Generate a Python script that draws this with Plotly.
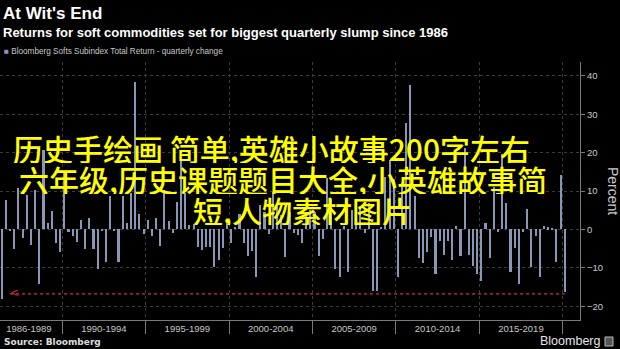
import pandas as pd
import plotly.graph_objects as go

# ---------------- data ----------------
FIRST_QUARTER = "1986Q2"
LAST_QUARTER = "2020Q1"
VALUES = [
    -18.0, 7.6, -0.3, -5.0, 10.8, -2.3, 8.9, -4.1, 10.2, -14.3,
    20.8, 1.6, 4.9, -3.6, -6.0, 14.6, -0.6, -1.6, -3.4, 2.5,
    -5.2, 2.9, -5.2, -10.2, -0.3, -8.4, 8.8, -0.3, -8.4, 8.7,
    1.7, 9.4, 38.3, 4.0, -1.3, 2.4, -1.6, 2.9, -4.3, 10.2,
    2.2, -1.0, 7.2, 18.0, 9.4, 1.1, 1.4, -4.5, -5.4, -4.5,
    -4.5, -9.7, -8.0, -4.8, 2.0, -3.6, 0.7, 4.0, -3.6, -6.8,
    -5.6, -12.5, 6.3, 4.5, -1.3, 9.8, 5.8, 3.7, -7.2, 4.6,
    -1.0, -1.5, -3.5, 3.7, 5.0, 4.6, -6.8, -2.5, 13.3, 8.0,
    -10.2, -12.5, 1.0, -11.0, 5.0, 8.0, 6.0, -1.0, 7.0, -16.1,
    -16.1, 0.7, 13.7, 18.0, 13.0, -12.3, 12.4, 27.6, 37.6, 8.7,
    -7.4, -8.7, -5.8, -1.9, -11.6, -3.0, -6.7, -3.0, -8.0, 1.0,
    -6.9, 21.3, -6.7, -9.5, -11.7, -13.5, 1.6, -7.4, 11.0, -0.8,
    19.7, 6.9, -11.0, -4.8, -14.1, -0.6, 5.3, -9.9, -1.7, -12.3,
    0.9, 0.5, 0.2, -8.4, 14.1, -16.3,
]
PERIOD_LABELS = ["1986-1989", "1990-1994", "1995-1999", "2000-2004",
                 "2005-2009", "2010-2014", "2015-2019"]
Y_TICKS = [-20, -10, 0, 10, 20, 30, 40]
SLUMP_LEVEL = -16.8
ARROW_HEAD_QUARTER = "1986Q4"

TITLE = "At Wit's End"
SUBTITLE = "Returns for soft commodities set for biggest quarterly slump since 1986"
SERIES_NAME = "Bloomberg Softs Subindex Total Return - quarterly change"
SOURCE = "Source: Bloomberg"
OVERLAY_LINES = ["历史手绘画 简单,英雄小故事200字左右",
                 "六年级,历史课题题目大全,小英雄故事简",
                 "短,人物素材图片"]

# ---------------- derived ----------------
quarters = pd.period_range(FIRST_QUARTER, LAST_QUARTER, freq="Q")
def qx(p):
    return p.year + (p.quarter - 1) * 0.25 + 0.125
xs = [qx(p) for p in quarters]
label_pos = [(int(l[:4]) + int(l[-4:]) + 1) / 2 for l in PERIOD_LABELS]
head_x = qx(pd.Period(ARROW_HEAD_QUARTER, freq="Q"))

W, H = 620, 349
ML, MR, MT, MB = 0, 40, 62, 29
PW, PH = W - ML - MR, H - MT - MB
def px(x):
    return (x - ML) / PW
def py(y):
    return (H - MB - y) / PH

BAR = "#8797B5"
GRID = "#3c3c3c"
AXIS_TXT = "#c8c8c8"

fig = go.Figure()
fig.add_trace(go.Bar(x=xs, y=VALUES, width=0.125, marker=dict(color=BAR, line=dict(width=0)),
                     name=SERIES_NAME, showlegend=False, hoverinfo="x+y"))
fig.add_trace(go.Scatter(x=[head_x, xs[-1]], y=[SLUMP_LEVEL, SLUMP_LEVEL], mode="lines",
                         line=dict(color="#a0222a", width=1.6, dash="dot"),
                         showlegend=False, hoverinfo="skip"))

ann = []
ann.append(dict(x=head_x, y=SLUMP_LEVEL, xref="x", yref="y", text="&lt;", showarrow=False,
                xanchor="left", yanchor="middle", xshift=-1, yshift=1,
                font=dict(family="Liberation Sans", size=13, color="#c0303a")))
ann.append(dict(x=px(1), y=py(14), xref="paper", yref="paper", text="<b>" + TITLE + "</b>",
                showarrow=False, xanchor="left", yanchor="middle",
                font=dict(family="Liberation Sans", size=17, color="#ffffff")))
ann.append(dict(x=px(1), y=py(32), xref="paper", yref="paper", text="<b>" + SUBTITLE + "</b>",
                showarrow=False, xanchor="left", yanchor="middle",
                font=dict(family="Liberation Sans", size=13, color="#ffffff")))
ann.append(dict(x=px(2), y=py(52), xref="paper", yref="paper",
                text='<span style="color:%s">■</span> ' % BAR + SERIES_NAME,
                showarrow=False, xanchor="left", yanchor="middle",
                font=dict(family="Liberation Sans", size=8.2, color=AXIS_TXT)))
ann.append(dict(x=px(2), y=py(342), xref="paper", yref="paper", text="<b>" + SOURCE + "</b>",
                showarrow=False, xanchor="left", yanchor="middle",
                font=dict(family="DejaVu Sans", size=9, color="#dddddd")))
ann.append(dict(x=px(602), y=py(341), xref="paper", yref="paper", text="Bloomberg",
                showarrow=False, xanchor="right", yanchor="middle",
                font=dict(family="Liberation Sans", size=12.5, color="#e6e6e6")))
ann.append(dict(x=px(613), y=py(191), xref="paper", yref="paper", text="Percent",
                showarrow=False, xanchor="center", yanchor="middle", textangle=90,
                font=dict(family="Liberation Sans", size=14, color=AXIS_TXT)))
for txt, x0, yc in zip(OVERLAY_LINES, [11, 17, 191], [147.5, 178.5, 209.5]):
    ann.append(dict(x=px(x0), y=py(yc), xref="paper", yref="paper", text=txt,
                    showarrow=False, xanchor="left", yanchor="middle", height=30,
                    valign="middle",
                    font=dict(family="Noto Sans CJK SC", size=30, color="#ffff00",
                              weight=500)))

fig.update_layout(
    width=W, height=H,
    margin=dict(l=ML, r=MR, t=MT, b=MB),
    paper_bgcolor="#000000", plot_bgcolor="#000000",
    bargap=0, showlegend=False,
    annotations=ann,
    shapes=[dict(type="rect", xref="paper", yref="paper",
                 x0=px(605), x1=px(613), y0=py(346), y1=py(337),
                 line=dict(color="#bbbbbb", width=1), fillcolor="#555555")],
    xaxis=dict(range=[1986.27, 2021.04], tickmode="array", tickvals=label_pos,
               ticktext=PERIOD_LABELS, ticks="", showgrid=False, zeroline=False,
               showline=True, linecolor="#7a7a7a", linewidth=1,
               tickfont=dict(family="Liberation Sans", size=9.5, color=AXIS_TXT),
               minor=dict(tick0=1990, dtick=5, ticks="outside", ticklen=13,
                          tickcolor="#7a7a7a", tickwidth=1, showgrid=True,
                          gridcolor=GRID, griddash="dot", gridwidth=1)),
    yaxis=dict(side="right", range=[-23.6, 43.6], tickmode="array", tickvals=Y_TICKS,
               ticks="outside", ticklen=4, tickcolor="#7a7a7a",
               showgrid=True, gridcolor=GRID, griddash="dot", zeroline=False,
               showline=True, linecolor="#7a7a7a", linewidth=1,
               tickfont=dict(family="Liberation Sans", size=9.5, color=AXIS_TXT)),
)

fig.write_html("out.html")
